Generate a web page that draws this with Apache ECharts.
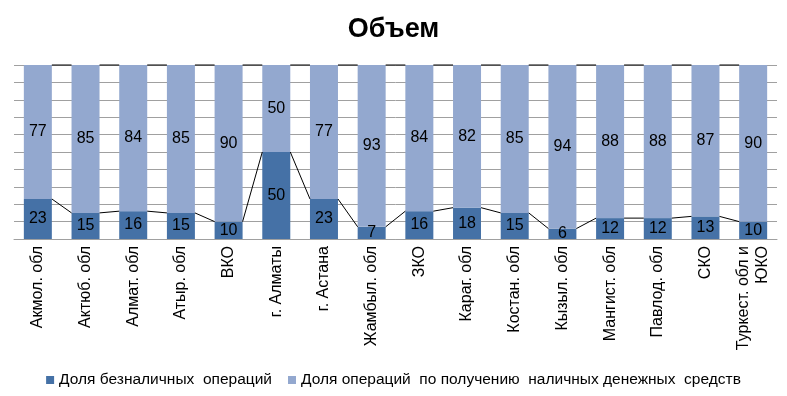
<!DOCTYPE html>
<html><head><meta charset="utf-8">
<script src="https://cdn.jsdelivr.net/npm/echarts@6/dist/echarts.min.js"></script>
<style>html,body{margin:0;padding:0;background:#fff}#c{width:787px;height:396px}</style>
</head><body><div id="c"></div>
<script>
const categories = ['Акмол. обл','Актюб. обл','Алмат. обл','Атыр. обл','ВКО','г. Алматы','г. Астана','Жамбыл. обл','ЗКО','Караг. обл','Костан. обл','Кызыл. обл','Мангист. обл','Павлод. обл','СКО','Туркест. обл и\nЮКО'];
const cashless = [23,15,16,15,10,50,23,7,16,18,15,6,12,12,13,10];
const cash = [77,85,84,85,90,50,77,93,84,82,85,94,88,88,87,90];
const seriesNames = ['Доля безналичных  операций','Доля операций  по получению  наличных денежных  средств'];

const top1 = cashless.slice();
const top2 = cashless.map((v,i)=>v+cash[i]);
const BW = 28;
function seriesLines(tops){
  return {
    type:'custom', silent:true, z:5,
    data: tops.map((v,i)=>[i,v]),
    renderItem:function(params, api){
      const i = api.value(0);
      if (i >= tops.length-1) return null;
      const p1 = api.coord([i, tops[i]]);
      const p2 = api.coord([i+1, tops[i+1]]);
      return {type:'line', shape:{x1:p1[0]+BW/2, y1:p1[1], x2:p2[0]-BW/2, y2:p2[1]}, style:{stroke:'#000', lineWidth:1}};
    }
  };
}
const chart = echarts.init(document.getElementById('c'));
chart.setOption({
  animation:false,
  title:{text:'Объем', left:'center', top:11, textStyle:{fontFamily:'Liberation Sans', fontSize:27, fontWeight:'bold', color:'#000'}},
  legend:{bottom:3, left:'center', itemWidth:8, itemHeight:8, itemGap:16, icon:'rect',
    textStyle:{fontFamily:'Liberation Sans', fontSize:15.5, color:'#000'},
    data:seriesNames},
  grid:{left:14, right:10, top:65, bottom:157},
  xAxis:{type:'category', data:categories,
    axisLine:{lineStyle:{color:'#a0a0a0'}}, axisTick:{show:false},
    axisLabel:{rotate:90, interval:0, fontFamily:'Liberation Sans', fontSize:16, color:'#000', margin:7, lineHeight:19}},
  yAxis:{type:'value', min:0, max:100, interval:10, axisLabel:{show:false}, axisLine:{show:false}, axisTick:{show:false},
    splitLine:{lineStyle:{color:'#a0a0a0'}}},
  series:[
    {name:seriesNames[0], type:'bar', stack:'a', data:cashless, barWidth:BW, itemStyle:{color:'#4571a6'},
      label:{show:true, position:'inside', color:'#000', fontFamily:'Liberation Sans', fontSize:16}},
    {name:seriesNames[1], type:'bar', stack:'a', data:cash, barWidth:BW, itemStyle:{color:'#93a8cf'},
      label:{show:true, position:'inside', color:'#000', fontFamily:'Liberation Sans', fontSize:16}},
    seriesLines(top1),
    seriesLines(top2)
  ]
});
</script></body></html>
